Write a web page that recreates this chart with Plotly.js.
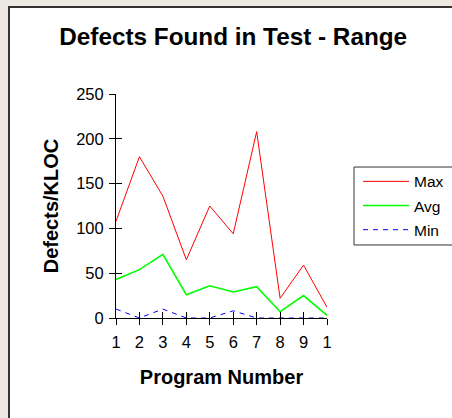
<!DOCTYPE html>
<html>
<head>
<meta charset="utf-8">
<script src="https://cdn.plot.ly/plotly-3.0.1.min.js"></script>
<style>
  html, body { margin: 0; padding: 0; background: #ECE9E2; width: 452px; height: 418px; overflow: hidden; }
  #frame { position: absolute; left: 8px; top: 6px; border-left: 2px solid #333; border-top: 2px solid #333; background: #fff; width: 460px; height: 420px; }
  #chart { width: 442px; height: 410px; }
</style>
</head>
<body>
<div id="frame"><div id="chart"></div></div>
<script>
const programs = [1, 2, 3, 4, 5, 6, 7, 8, 9, 10];
const programLabels = ["1", "2", "3", "4", "5", "6", "7", "8", "9", "1"];
const maxDefects = [108, 180, 136, 65, 125, 94, 208, 22, 59, 12];
const avgDefects = [43, 54, 71, 26, 36, 29, 35, 7, 25, 3];
const minDefects = [10, 0, 10, 0, 0, 8, 0, 0, 0, 0];
const yTicks = [0, 50, 100, 150, 200, 250];

const FONT = "Liberation Sans, Arial, sans-serif";

const traces = [
  { x: programs, y: maxDefects, name: "Max", mode: "lines", type: "scatter",
    line: { color: "#FF0000", width: 1 }, legendgroup: "a" },
  { x: programs, y: avgDefects, name: "Avg", mode: "lines", type: "scatter",
    line: { color: "#00FF00", width: 1.6 }, legendgroup: "b" },
  { x: programs, y: minDefects, name: "Min", mode: "lines", type: "scatter",
    line: { color: "#0000FF", width: 1, dash: "5px,5px" }, legendgroup: "c",
    xaxis: "x2", yaxis: "y2" }
];

const W = 442, H = 410;
const layout = {
  width: W, height: H,
  margin: { l: 106, r: 125, t: 86, b: 100, autoexpand: false },
  paper_bgcolor: "#ffffff", plot_bgcolor: "#ffffff",
  font: { family: FONT, color: "#000", size: 16 },
  showlegend: true,
  title: { text: "Defects Found in Test - Range", font: { family: FONT, size: 24.3, weight: "bold", color: "#000" },
           x: 0.505, xanchor: "center", y: 0.93, yanchor: "middle", xref: "container", yref: "container" },
  xaxis: {
    range: [1, 10], tickvals: programs, ticktext: programLabels,
    showgrid: false, zeroline: false, showline: true, linecolor: "#000", linewidth: 1,
    ticks: "outside", ticklen: 6, tickcolor: "#000", tickwidth: 1,
    tickfont: { family: FONT, size: 16.5, color: "#000" }, ticklabelstandoff: 3,
    automargin: false, fixedrange: true,
    title: { text: "Program Number", font: { family: FONT, size: 20, weight: "bold", color: "#000" }, standoff: 20 }
  },
  yaxis: {
    range: [0, 250], tickvals: yTicks,
    showgrid: false, zeroline: false, showline: true, linecolor: "#000", linewidth: 1,
    ticks: "outside", ticklen: 6, tickcolor: "#000", tickwidth: 1,
    tickfont: { family: FONT, size: 16.5, color: "#000" }, ticklabelstandoff: 2,
    automargin: false, fixedrange: true,
    title: { text: "Defects/KLOC", font: { family: FONT, size: 20, weight: "bold", color: "#000" }, standoff: 12 }
  },
  xaxis2: {
    overlaying: "x", anchor: "y2", range: [1, 10], tickvals: programs,
    showticklabels: false, showgrid: false, zeroline: false, showline: false,
    ticks: "inside", ticklen: 6, tickcolor: "#000", tickwidth: 1, fixedrange: true
  },
  yaxis2: {
    overlaying: "y", anchor: "x2", range: [0, 250], tickvals: yTicks,
    showticklabels: false, showgrid: false, zeroline: false, showline: false,
    ticks: "inside", ticklen: 6, tickcolor: "#000", tickwidth: 1, fixedrange: true
  },
  shapes: [
    { type: "rect", xref: "paper", yref: "paper", x0: 1.128, x1: 2.0, y0: 0.326, y1: 0.674,
      line: { color: "#333", width: 1 }, fillcolor: "#ffffff", layer: "above" }
  ],
  legend: {
    x: 1.147, xanchor: "left", y: 0.684, yanchor: "top",
    bgcolor: "rgba(0,0,0,0)", borderwidth: 0,
    font: { family: FONT, size: 15.5, color: "#000" },
    traceorder: "grouped", tracegroupgap: 1, itemwidth: 46
  }
};

Plotly.newPlot("chart", traces, layout, { displayModeBar: false, staticPlot: true });
</script>
</body>
</html>
